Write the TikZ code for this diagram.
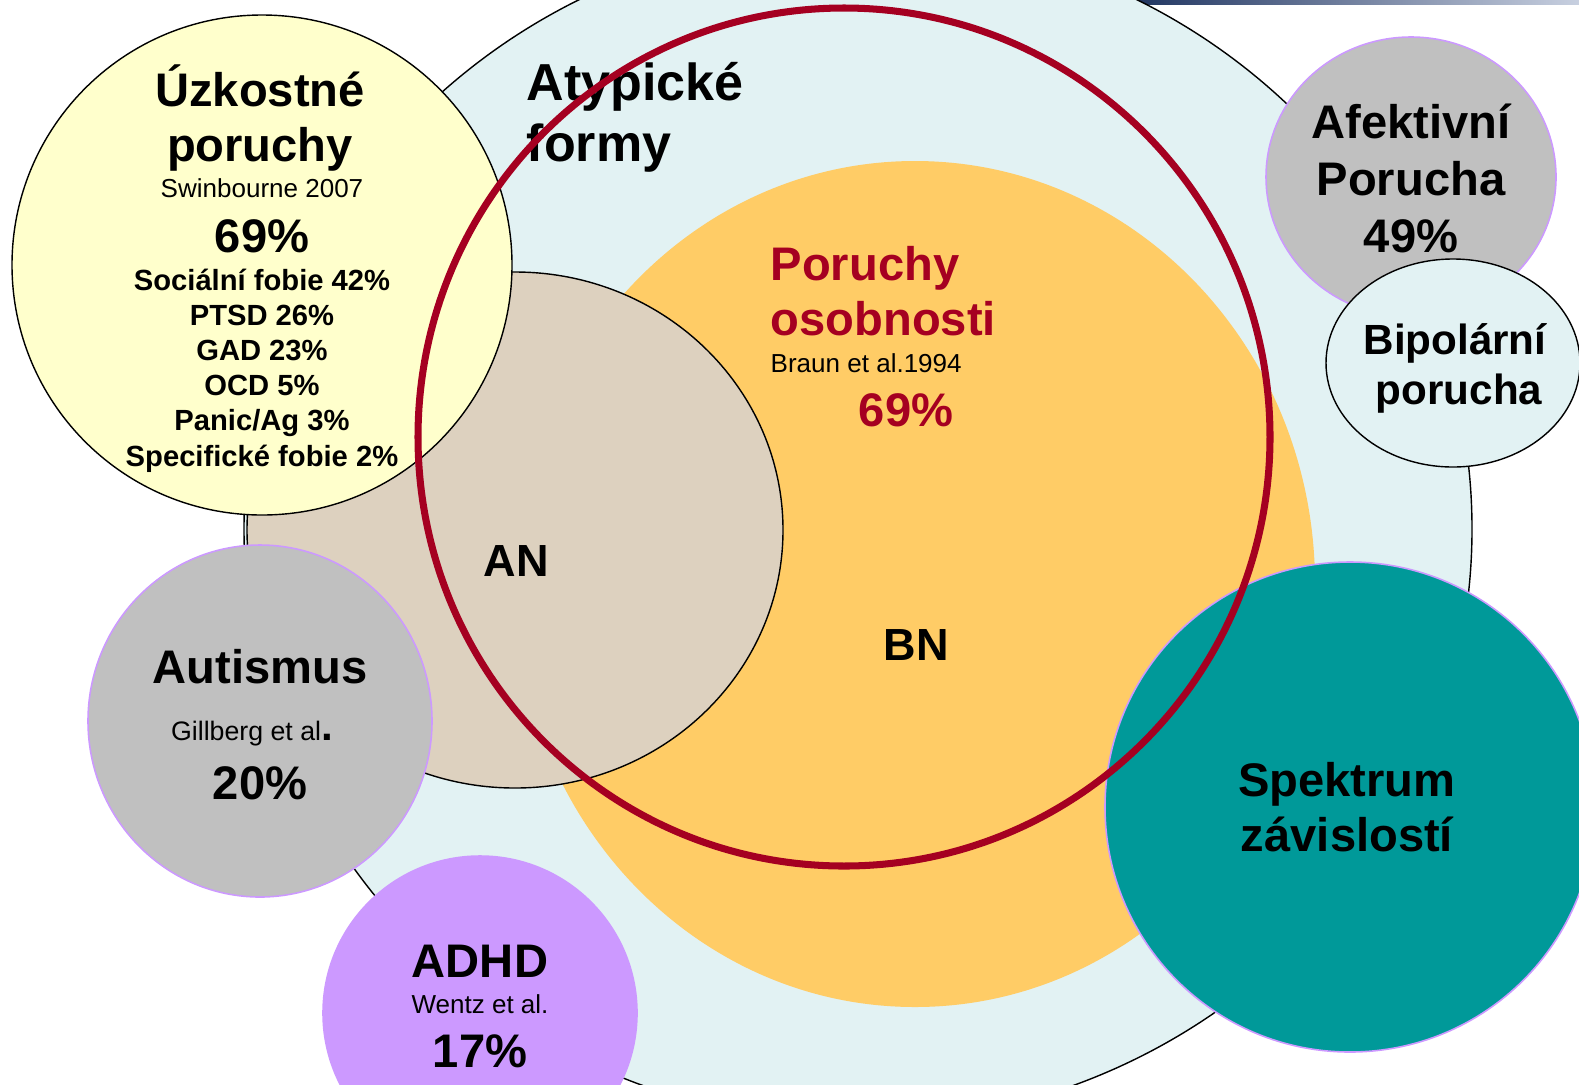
\documentclass[tikz,border=0pt]{standalone}
\usepackage{fontspec}
\setmainfont{Liberation Sans}
\definecolor{atypfill}{HTML}{E2F2F3}
\definecolor{osobfill}{HTML}{FFCC66}
\definecolor{anfill}{HTML}{DDD1BF}
\definecolor{uzkfill}{HTML}{FFFFCC}
\definecolor{ringred}{HTML}{A50021}
\definecolor{grayfill}{HTML}{C0C0C0}
\definecolor{lila}{HTML}{CC99FF}
\definecolor{spekfill}{HTML}{009999}
\definecolor{topdark}{HTML}{1F3460}
\definecolor{toplight}{HTML}{C8D0E0}
\tikzset{
  head/.style={font=\fontsize{13.4}{15.6}\selectfont\bfseries, align=center, anchor=base, inner sep=0pt},
  cite/.style={font=\fontsize{7.4}{9}\selectfont, anchor=base, inner sep=0pt},
  list/.style={font=\fontsize{8.3}{10}\selectfont\bfseries, align=center, anchor=base, inner sep=0pt},
  lilaline/.style={draw=lila, line width=0.45pt},
}

\begin{document}
\begin{tikzpicture}[x=0.01cm, y=-0.01cm]
\useasboundingbox (0,0) rectangle (1579,1084);
\clip (0,0) rectangle (1579,1084);
\shade[left color=topdark, right color=toplight] (1130,0) rectangle (1579,4);

% the sets
\filldraw[fill=atypfill, line width=0.4pt] (858,529) ellipse [x radius=614, y radius=594];
\fill[osobfill] (915,584) ellipse [x radius=400, y radius=423];
\filldraw[fill=anfill, line width=0.4pt] (515,530) ellipse [x radius=268, y radius=258];
\filldraw[fill=uzkfill, line width=0.4pt] (262,265) circle [radius=250];
\filldraw[fill=grayfill, lilaline] (260,721) ellipse [x radius=172, y radius=176];
\filldraw[fill=lila, lilaline] (480,1013) circle [radius=157];
\filldraw[fill=grayfill, lilaline] (1411,177) ellipse [x radius=145, y radius=140];
\filldraw[fill=atypfill, line width=0.4pt] (1453,363) ellipse [x radius=127, y radius=104];
\filldraw[fill=spekfill, lilaline] (1350,807) circle [radius=245];

% labels (base = last line)
\node[head] (uzk) at (260,161) {Úzkostné\\poruchy};
\node[cite] (uzkcite) at (262,197) {Swinbourne 2007};
\node[head] (uzkpct) at (262,252) {69\%};
\node[list] (uzklist) at (262,466) {Sociální fobie 42\%\\PTSD 26\%\\GAD 23\%\\OCD 5\%\\Panic/Ag 3\%\\Specifické fobie 2\%};

\node[head, font=\fontsize{14.8}{17.2}\selectfont\bfseries, align=left, anchor=base west] (atyp) at (526,161) {Atypické\\formy};

\node[head, text=ringred, align=left, anchor=base west] (osob) at (770,335) {Poruchy\\osobnosti};
\node[cite, anchor=base west] (osobcite) at (770,372) {Braun et al.1994};
\node[head, text=ringred] (osobpct) at (906,426) {69\%};

\node[head, font=\fontsize{12.8}{15}\selectfont\bfseries] (an) at (516,576) {AN};
\node[head, font=\fontsize{12.8}{15}\selectfont\bfseries] (bn) at (916,660) {BN};

\node[head] (aut) at (260,683) {Autismus};
\node[cite, font=\fontsize{7.6}{9}\selectfont] (autcite) at (252,740) {Gillberg et al{\fontsize{12}{14}\selectfont\bfseries.}};
\node[head] (autpct) at (260,799) {20\%};

\node[head] (adhd) at (480,977) {ADHD};
\node[cite] (adhdcite) at (480,1013) {Wentz et al.};
\node[head] (adhdpct) at (480,1067) {17\%};

\node[head, font=\fontsize{13.4}{16.2}\selectfont\bfseries] (afek) at (1411,252) {Afektivní\\Porucha\\49\%};
\node[head, font=\fontsize{12}{14.1}\selectfont\bfseries] (bip) at (1455,354) {Bipolární};
\node[head, font=\fontsize{12}{14.1}\selectfont\bfseries] (bip2) at (1459,404) {porucha};
\node[head] (spek) at (1347,851) {Spektrum\\závislostí};

% the ring
\draw[ringred, line width=2pt] (844,437) ellipse [x radius=426, y radius=429];
\end{tikzpicture}
\end{document}
